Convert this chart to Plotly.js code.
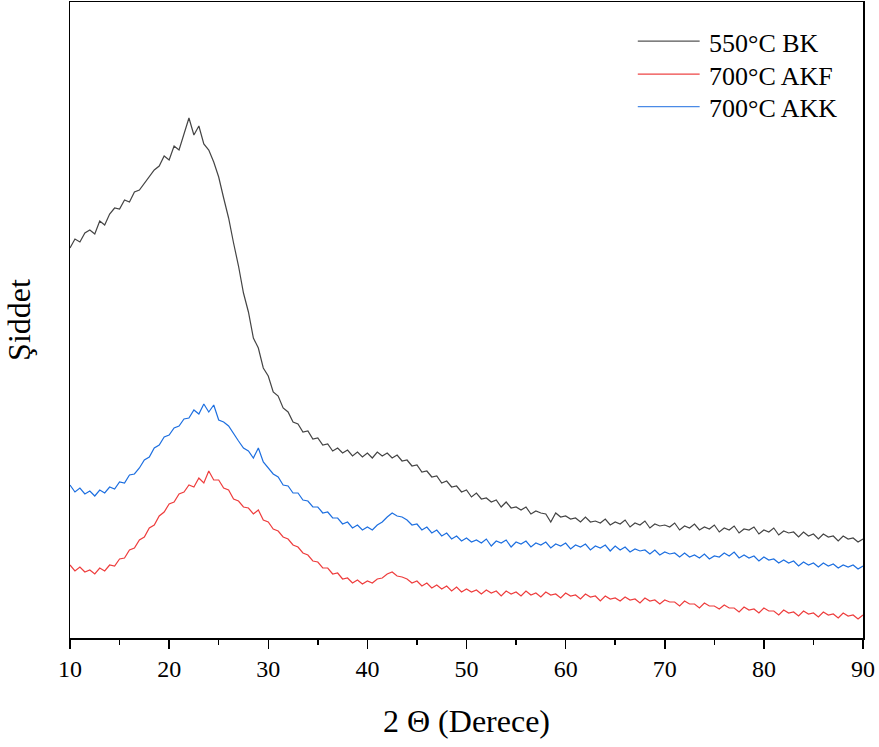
<!DOCTYPE html>
<html>
<head>
<meta charset="utf-8">
<script src="https://cdn.plot.ly/plotly-3.0.1.min.js"></script>
<style>html,body{margin:0;padding:0;background:#fff;}#chart{width:879px;height:747px;}</style>
</head>
<body>
<div id="chart"></div>
<script>
// Scan grid: 2θ from 10° to 90° in 0.5° steps
var twoThetaStart = 10, twoThetaStep = 0.5;

var seriesNames = ["550°C BK", "700°C AKF", "700°C AKK"];

// Intensity (a.u.), one value per 0.5° step
var bk550 = [
 390,399,396,405,408,404,417,413,424,430,
 429,438,436,446,448,455,462,468,472,482,
 478,492,488,505,520,503,512,494,488,476,
 461,440,420,395,372,345,326,300,290,270,
 262,246,242,230,226,216,214,206,207,199,
 200,193,194,187,190,185,188,182,186,181,
 185,180,186,182,185,180,183,177,178,172,
 173,166,167,161,162,155,157,151,152,146,
 148,141,145,139,140,136,138,131,136,130,
 131,128,131,124,127,125,124,116,125,121,
 122,119,120,116,121,116,117,115,119,113,
 116,114,118,111,115,113,117,110,114,112,
 113,111,115,108,112,110,114,108,111,109,
 113,106,110,108,112,105,109,108,111,104,
 108,106,110,103,107,105,106,101,106,102,
 104,99,104,101,102,97,102,99,100,96,
 99
];
var akf700 = [
 73,67,71,66,68,64,70,67,73,72,
 79,80,88,90,98,101,110,113,122,126,
 134,136,144,146,153,151,160,155,167,158,
 158,150,148,139,137,131,130,124,128,118,
 116,109,107,101,99,93,91,85,83,77,
 76,70,70,64,65,59,60,55,58,54,
 57,55,59,60,64,66,62,61,59,55,
 57,52,55,50,53,49,52,47,51,46,
 49,46,48,44,48,45,47,42,47,44,
 46,42,47,43,45,41,46,43,44,40,
 45,42,43,39,44,41,42,37,42,39,
 40,37,41,38,39,35,40,37,38,34,
 38,36,36,32,37,34,34,30,35,32,
 32,29,33,30,30,26,31,28,29,25,
 30,27,27,23,28,25,26,22,27,24,
 25,21,26,23,24,20,25,22,23,19,
 23
];
var akk700 = [
 153,146,150,144,147,142,148,145,151,149,
 156,155,163,164,170,178,181,190,193,201,
 203,210,212,219,220,228,224,234,226,233,
 218,216,212,204,197,190,187,180,190,176,
 170,164,161,153,152,145,145,138,137,131,
 131,125,126,120,120,114,116,110,113,108,
 111,108,113,116,121,125,122,121,118,113,
 114,108,111,105,108,102,105,99,102,97,
 100,96,98,95,99,92,97,95,98,91,
 96,94,97,91,95,93,96,90,94,92,
 95,89,93,91,94,88,92,90,93,87,
 92,88,91,86,89,87,88,84,88,83,
 86,84,85,81,85,81,83,80,84,79,
 82,81,85,82,86,80,83,80,82,77,
 81,78,79,75,78,75,77,72,76,73,
 75,71,75,72,74,70,73,71,73,69,
 72
];

var twoTheta = [];
for (var i = 0; i < bk550.length; i++) twoTheta.push(twoThetaStart + i * twoThetaStep);

var xTickVals = [10,20,30,40,50,60,70,80,90];
var xTickText = ["10","20","30","40","50","60","70","80","90"];

var colors = ["#444444", "#ee3d3d", "#1d6fe0"];
var legendLineColors = ["#555555", "#ee4444", "#4a8ae6"];
var ys = [bk550, akf700, akk700];

var traces = ys.map(function (y, k) {
  return {
    x: twoTheta, y: y, type: "scatter", mode: "lines",
    name: seriesNames[k], showlegend: false,
    line: {color: colors[k], width: 1.2}
  };
});

var font = "Liberation Serif, Times New Roman, serif";

// Legend drawn as paper-anchored lines + labels (longer sample lines than the built-in legend)
var legendRowsY = [0.9355, 0.8836, 0.8325];
var shapes = [], annotations = [];
seriesNames.forEach(function (nm, k) {
  shapes.push({type: "line", xref: "paper", yref: "paper",
    x0: 0.716, x1: 0.794, y0: legendRowsY[k] + 0.003, y1: legendRowsY[k] + 0.003,
    line: {color: legendLineColors[k], width: 1.3}});
  annotations.push({xref: "paper", yref: "paper", x: 0.803, y: legendRowsY[k],
    xanchor: "left", yanchor: "middle", showarrow: false, text: nm,
    font: {family: font, size: 26, color: "#000"}});
});

var layout = {
  width: 879, height: 747,
  margin: {l: 70, r: 16, t: 2, b: 109},
  paper_bgcolor: "#fff", plot_bgcolor: "#fff",
  font: {family: font, color: "#000", size: 24},
  showlegend: false,
  shapes: shapes, annotations: annotations,
  xaxis: {
    range: [10, 90], showgrid: false, zeroline: false,
    showline: true, linecolor: "#000", linewidth: 1.5, mirror: true,
    ticks: "outside", ticklen: 9, tickwidth: 1.5, tickcolor: "#000",
    tickvals: xTickVals, ticktext: xTickText,
    minor: {ticks: "outside", ticklen: 5, tickwidth: 1.5, tickcolor: "#000", dtick: 5, showgrid: false},
    tickfont: {family: font, size: 24, color: "#000"},
    title: {text: "2 Θ (Derece)", font: {family: font, size: 32, color: "#000"}, standoff: 28},
    automargin: false
  },
  yaxis: {
    range: [0, 636], showgrid: false, zeroline: false,
    showline: true, linecolor: "#000", linewidth: 1.5, mirror: true,
    ticks: "", showticklabels: false,
    title: {text: "Şiddet", font: {family: font, size: 32, color: "#000"}, standoff: 28},
    automargin: false
  }
};

Plotly.newPlot("chart", traces, layout, {displayModeBar: false, staticPlot: true});
</script>
</body>
</html>
